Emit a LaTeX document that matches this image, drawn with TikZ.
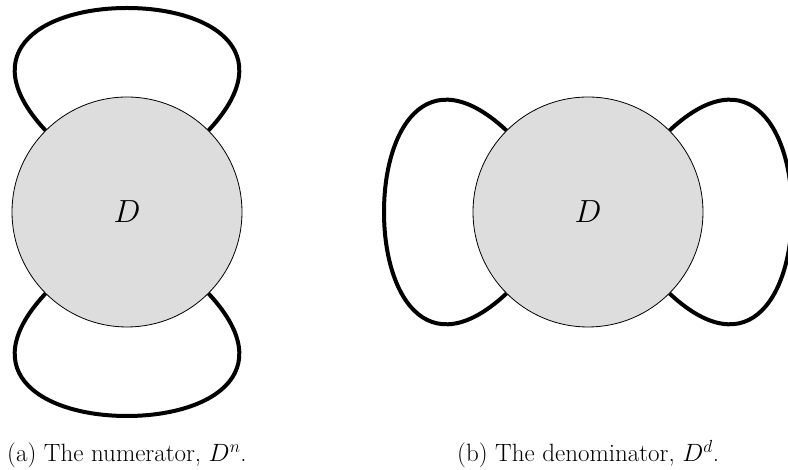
\documentclass[tikz,border=0pt]{standalone}
\usepackage{fix-cm}
\usetikzlibrary{positioning}
\definecolor{discgray}{RGB}{221,221,221}

\begin{document}
\begin{tikzpicture}[
    x=1pt, y=1pt,
    disc/.style={circle, draw, line width=0.8pt, fill=discgray, minimum size=230pt, inner sep=0pt, font=\fontsize{32}{38}\selectfont},
    lobe/.style={line width=4pt},
    caption/.style={anchor=base west, inner sep=0pt, font=\fontsize{25}{30}\selectfont}
]
    \useasboundingbox (0,0) rectangle (788,470);

    % centres of the two discs
    \coordinate (cn) at (127,258);
    \coordinate (cd) at (588,258);

    % loops first, the discs cover their ends
    \foreach \rot/\ctr in {0/cn, 180/cn, 90/cd, -90/cd} {
        \begin{scope}[shift={(\ctr)}, rotate=\rot]
            \draw[lobe] (135:100) .. controls (-162,157) and (-87,204) .. (0,204)
                .. controls (87,204) and (162,157) .. (45:100);
        \end{scope}
    }

    % discs
    \node[disc] (num) at (cn) {$D$};
    \node[disc] (den) at (cd) {$D$};

    % captions
    \node[caption] (capn) at (7,8) {(a) The numerator, $D^n$.};
    \node[caption] (capd) at (457,8) {(b) The denominator, $D^d$.};
\end{tikzpicture}
\end{document}
